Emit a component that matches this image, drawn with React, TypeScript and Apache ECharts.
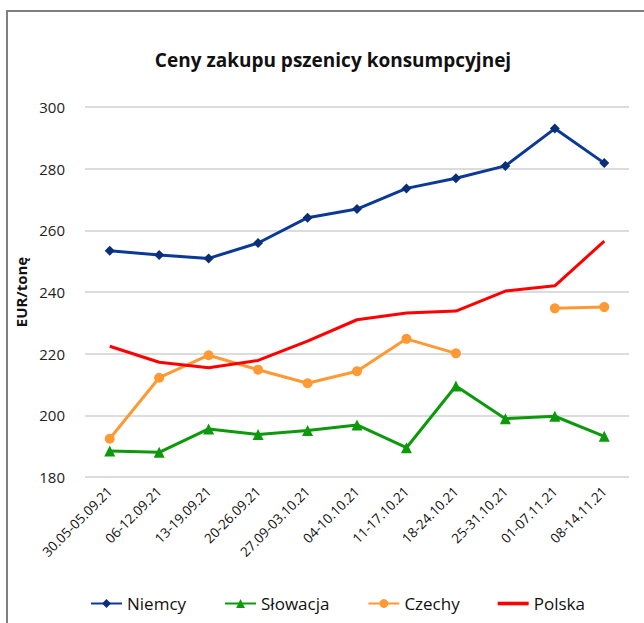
import React, { useEffect, useRef } from "react";
import * as echarts from "echarts";

const categories = [
  "30.05-05.09.21",
  "06-12.09.21",
  "13-19.09.21",
  "20-26.09.21",
  "27.09-03.10.21",
  "04-10.10.21",
  "11-17.10.21",
  "18-24.10.21",
  "25-31.10.21",
  "01-07.11.21",
  "08-14.11.21",
];
const niemcy = [253.4, 252.0, 250.9, 255.9, 264.1, 266.9, 273.6, 276.9, 280.9, 293.0, 281.8];
const slowacja = [188.4, 188.0, 195.6, 193.8, 195.1, 196.9, 189.5, 209.5, 198.9, 199.7, 193.2];
const czechy: (number | null)[] = [192.4, 212.2, 219.5, 214.8, 210.4, 214.3, 224.8, 220.1, null, 234.7, 235.1];
const polska = [222.4, 217.2, 215.4, 217.8, 224.1, 231.0, 233.2, 233.8, 240.3, 242.0, 256.5];

const FONT = "'Open Sans', 'Noto Sans', sans-serif";

export default function App() {
  const ref = useRef<HTMLDivElement>(null);
  useEffect(() => {
    if (!ref.current) return;
    const chart = echarts.init(ref.current, null, { renderer: "svg" });
    chart.setOption({
      animation: false,
      backgroundColor: "#ffffff",
      textStyle: { fontFamily: FONT },
      title: {
        text: "Ceny zakupu pszenicy konsumpcyjnej",
        left: 328,
        textAlign: "center",
        top: 45,
        textStyle: { fontFamily: FONT, fontSize: 19, fontWeight: "bold", color: "#111" },
      },
      graphic: [
        { type: "line", shape: { x1: 7, y1: 11, x2: 7, y2: 623 }, style: { stroke: "#7f7f7f", lineWidth: 2 } },
        { type: "line", shape: { x1: 6, y1: 11, x2: 644, y2: 11 }, style: { stroke: "#7f7f7f", lineWidth: 2 } },
      ],
      grid: { left: 85, right: 15, top: 107, bottom: 146 },
      legend: {
        bottom: 6,
        left: 85,
        itemGap: 38,
        itemWidth: 31,
        itemHeight: 11,
        textStyle: { fontFamily: FONT, fontSize: 17, color: "#111" },
        data: [
          "Niemcy",
          "Słowacja",
          "Czechy",
          { name: "Polska", icon: "path://M0,0 L30,0 L30,3.5 L0,3.5 Z" },
        ],
      },
      xAxis: {
        type: "category",
        data: categories,
        boundaryGap: true,
        axisLine: { show: false },
        axisTick: { show: false },
        axisLabel: { rotate: 45, fontSize: 13.5, color: "#111", margin: 12, interval: 0, fontFamily: FONT },
      },
      yAxis: {
        type: "value",
        min: 180,
        max: 300,
        interval: 20,
        name: "EUR/tonę",
        nameLocation: "middle",
        nameGap: 52,
        nameTextStyle: { fontFamily: FONT, fontSize: 15, fontWeight: "bold", color: "#111" },
        axisLine: { show: false },
        axisTick: { show: false },
        axisLabel: { fontSize: 15, color: "#222", margin: 20, fontFamily: FONT },
        splitLine: { lineStyle: { color: "#d0d0d0", width: 1.5 } },
      },
      series: [
        {
          name: "Niemcy",
          type: "line",
          data: niemcy,
          symbol: "diamond",
          symbolSize: 10,
          lineStyle: { color: "#0a3a96", width: 3 },
          itemStyle: { color: "#0a2e78" },
          color: "#0a3a96",
        },
        {
          name: "Słowacja",
          type: "line",
          data: slowacja,
          symbol: "triangle",
          symbolSize: 11,
          lineStyle: { color: "#0c990c", width: 3 },
          itemStyle: { color: "#0c990c" },
          color: "#0c990c",
        },
        {
          name: "Czechy",
          type: "line",
          data: czechy,
          connectNulls: false,
          symbol: "circle",
          symbolSize: 10,
          lineStyle: { color: "#ff9933", width: 3 },
          itemStyle: { color: "#ff9933" },
          color: "#ff9933",
        },
        {
          name: "Polska",
          type: "line",
          data: polska,
          showSymbol: false,
          symbol: "none",
          lineStyle: { color: "#ff0000", width: 3 },
          itemStyle: { color: "#ff0000" },
          color: "#ff0000",
        },
      ],
    });
    return () => chart.dispose();
  }, []);
  return (
    <div
      ref={ref}
      style={{ position: "fixed", left: 0, top: 0, width: 644, height: 623 }}
    />
  );
}
